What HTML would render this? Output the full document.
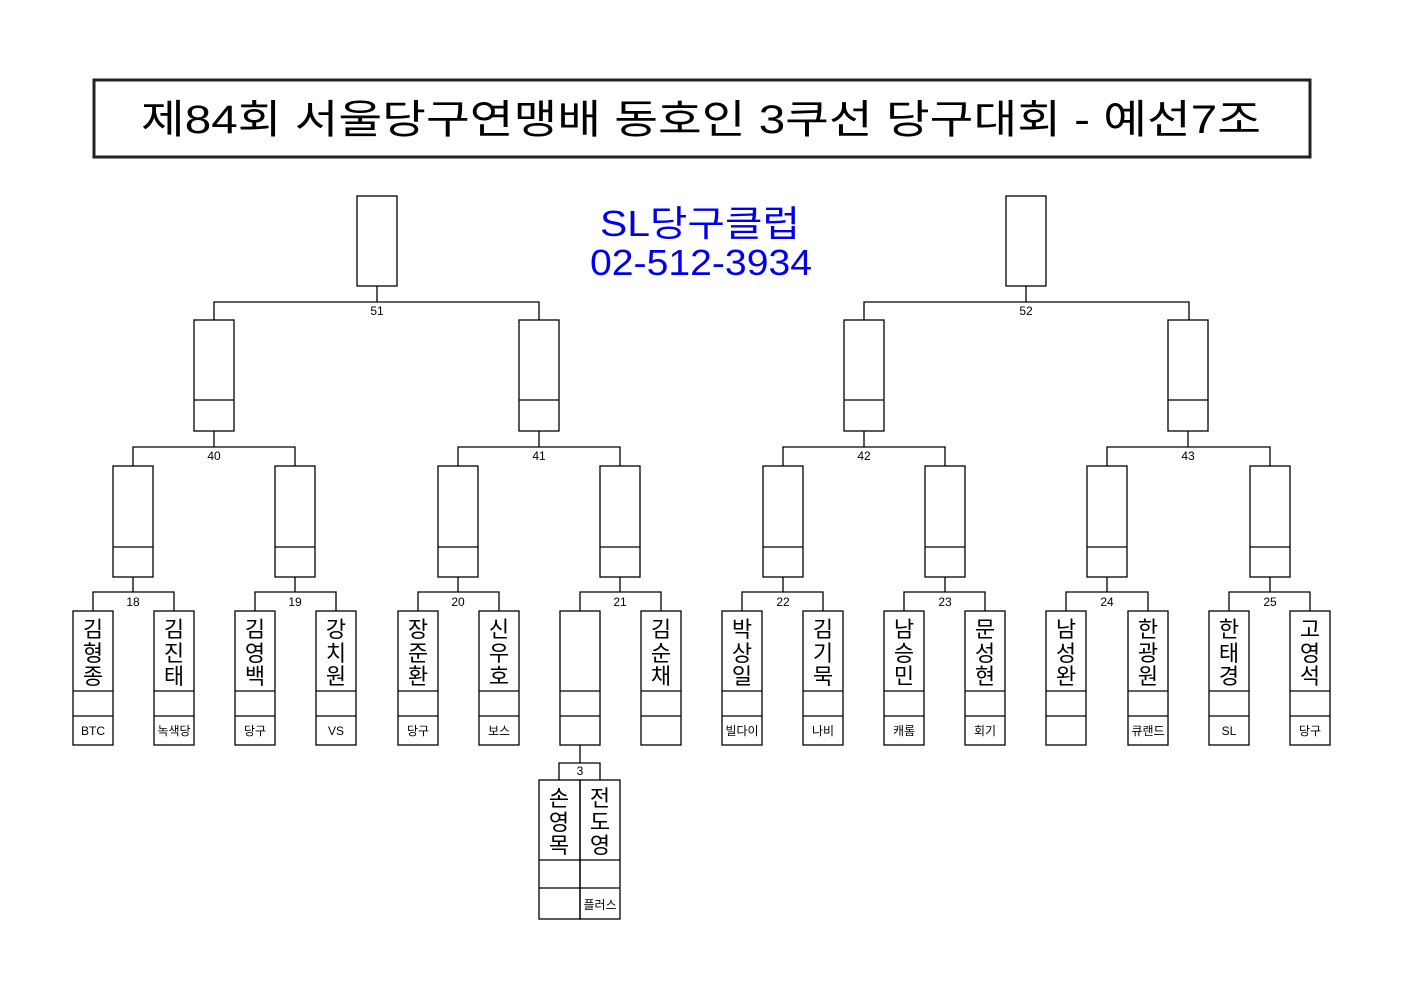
<!DOCTYPE html>
<html><head><meta charset="utf-8"><style>
body{margin:0;background:#fff}
svg{display:block}
text{font-family:"Liberation Sans","Noto Sans CJK KR","NanumGothic",sans-serif}
.n{font-size:22px;text-anchor:middle;fill:#000}
.t{font-size:12px;text-anchor:middle;fill:#000}
.l{font-size:12px;text-anchor:middle;fill:#000}
</style></head><body>
<svg width="1403" height="992" viewBox="0 0 1403 992" xmlns="http://www.w3.org/2000/svg">
<rect x="94" y="80" width="1216" height="77" fill="none" stroke="#222" stroke-width="3"/>
<text x="701" y="133" font-size="40" text-anchor="middle" textLength="1120" lengthAdjust="spacingAndGlyphs">제84회 서울당구연맹배 동호인 3쿠선 당구대회 - 예선7조</text>
<text x="700" y="236" font-size="36" fill="#0000ee" text-anchor="middle" textLength="200" lengthAdjust="spacingAndGlyphs">SL당구클럽</text>
<text x="701" y="275" font-size="36" fill="#0000ee" text-anchor="middle" textLength="222" lengthAdjust="spacingAndGlyphs">02-512-3934</text>

<g fill="none" stroke="#000" stroke-width="1.3">
<!-- top boxes -->
<rect x="357" y="196" width="40" height="90"/>
<rect x="1006" y="196" width="40" height="90"/>
<path d="M377 286V302M214 320V302H539V320M1026 286V302M864 320V302H1189V320"/>
<!-- round2 boxes -->
<rect x="194" y="320" width="40" height="111"/><path d="M194 400H234"/>
<rect x="519" y="320" width="40" height="111"/><path d="M519 400H559"/>
<rect x="844" y="320" width="40" height="111"/><path d="M844 400H884"/>
<rect x="1168" y="320" width="40" height="111"/><path d="M1168 400H1208"/>
<path d="M214 431V447M133 466V447H295V466M539 431V447M458 466V447H620V466M864 431V447M783 466V447H945V466M1188 431V447M1107 466V447H1270V466"/>
<!-- round1 boxes -->
<rect x="113" y="466" width="40" height="111"/><path d="M113 547H153"/>
<rect x="275" y="466" width="40" height="111"/><path d="M275 547H315"/>
<rect x="438" y="466" width="40" height="111"/><path d="M438 547H478"/>
<rect x="600" y="466" width="40" height="111"/><path d="M600 547H640"/>
<rect x="763" y="466" width="40" height="111"/><path d="M763 547H803"/>
<rect x="925" y="466" width="40" height="111"/><path d="M925 547H965"/>
<rect x="1087" y="466" width="40" height="111"/><path d="M1087 547H1127"/>
<rect x="1250" y="466" width="40" height="111"/><path d="M1250 547H1290"/>
<path d="M133 577V592M93 611V592H174V611M295 577V592M255 611V592H336V611M458 577V592M418 611V592H499V611M620 577V592M580 611V592H661V611M783 577V592M742 611V592H823V611M945 577V592M904 611V592H985V611M1107 577V592M1066 611V592H1148V611M1270 577V592M1229 611V592H1310V611"/>
<!-- leaves -->
<g id="leaves">
<rect x="73" y="611" width="40" height="134"/><path d="M73 691H113M73 716H113"/>
<rect x="154" y="611" width="40" height="134"/><path d="M154 691H194M154 716H194"/>
<rect x="235" y="611" width="40" height="134"/><path d="M235 691H275M235 716H275"/>
<rect x="316" y="611" width="40" height="134"/><path d="M316 691H356M316 716H356"/>
<rect x="398" y="611" width="40" height="134"/><path d="M398 691H438M398 716H438"/>
<rect x="479" y="611" width="40" height="134"/><path d="M479 691H519M479 716H519"/>
<rect x="560" y="611" width="40" height="134"/><path d="M560 691H600M560 716H600"/>
<rect x="641" y="611" width="40" height="134"/><path d="M641 691H681M641 716H681"/>
<rect x="722" y="611" width="40" height="134"/><path d="M722 691H762M722 716H762"/>
<rect x="803" y="611" width="40" height="134"/><path d="M803 691H843M803 716H843"/>
<rect x="884" y="611" width="40" height="134"/><path d="M884 691H924M884 716H924"/>
<rect x="965" y="611" width="40" height="134"/><path d="M965 691H1005M965 716H1005"/>
<rect x="1046" y="611" width="40" height="134"/><path d="M1046 691H1086M1046 716H1086"/>
<rect x="1128" y="611" width="40" height="134"/><path d="M1128 691H1168M1128 716H1168"/>
<rect x="1209" y="611" width="40" height="134"/><path d="M1209 691H1249M1209 716H1249"/>
<rect x="1290" y="611" width="40" height="134"/><path d="M1290 691H1330M1290 716H1330"/>
</g>
<!-- match 3 -->
<path d="M580 745V763M559 780V763H600V780"/>
<rect x="539" y="780" width="41" height="139"/><rect x="580" y="780" width="40" height="139"/>
<path d="M539 860H620M539 888H620"/>
</g>

<g class="l">
<text x="377" y="315">51</text><text x="1026" y="315">52</text>
<text x="214" y="460">40</text><text x="539" y="460">41</text><text x="864" y="460">42</text><text x="1188" y="460">43</text>
<text x="133" y="606">18</text><text x="295" y="606">19</text><text x="458" y="606">20</text><text x="620" y="606">21</text>
<text x="783" y="606">22</text><text x="945" y="606">23</text><text x="1107" y="606">24</text><text x="1270" y="606">25</text>
<text x="580" y="775">3</text>
</g>

<g class="n">
<text x="93" y="637">김</text><text x="93" y="661">형</text><text x="93" y="684">종</text>
<text x="174" y="637">김</text><text x="174" y="661">진</text><text x="174" y="684">태</text>
<text x="255" y="637">김</text><text x="255" y="661">영</text><text x="255" y="684">백</text>
<text x="336" y="637">강</text><text x="336" y="661">치</text><text x="336" y="684">원</text>
<text x="418" y="637">장</text><text x="418" y="661">준</text><text x="418" y="684">환</text>
<text x="499" y="637">신</text><text x="499" y="661">우</text><text x="499" y="684">호</text>
<text x="661" y="637">김</text><text x="661" y="661">순</text><text x="661" y="684">채</text>
<text x="742" y="637">박</text><text x="742" y="661">상</text><text x="742" y="684">일</text>
<text x="823" y="637">김</text><text x="823" y="661">기</text><text x="823" y="684">묵</text>
<text x="904" y="637">남</text><text x="904" y="661">승</text><text x="904" y="684">민</text>
<text x="985" y="637">문</text><text x="985" y="661">성</text><text x="985" y="684">현</text>
<text x="1066" y="637">남</text><text x="1066" y="661">성</text><text x="1066" y="684">완</text>
<text x="1148" y="637">한</text><text x="1148" y="661">광</text><text x="1148" y="684">원</text>
<text x="1229" y="637">한</text><text x="1229" y="661">태</text><text x="1229" y="684">경</text>
<text x="1310" y="637">고</text><text x="1310" y="661">영</text><text x="1310" y="684">석</text>
<text x="559" y="806">손</text><text x="559" y="830">영</text><text x="559" y="853">목</text>
<text x="600" y="806">전</text><text x="600" y="830">도</text><text x="600" y="853">영</text>
</g>

<g class="t">
<text x="93" y="735">BTC</text>
<text x="174" y="735">녹색당</text>
<text x="255" y="735">당구</text>
<text x="336" y="735">VS</text>
<text x="418" y="735">당구</text>
<text x="499" y="735">보스</text>
<text x="742" y="735">빌다이</text>
<text x="823" y="735">나비</text>
<text x="904" y="735">캐롬</text>
<text x="985" y="735">회기</text>
<text x="1148" y="735">큐랜드</text>
<text x="1229" y="735">SL</text>
<text x="1310" y="735">당구</text>
<text x="600" y="909">플러스</text>
</g>
</svg>
</body></html>
